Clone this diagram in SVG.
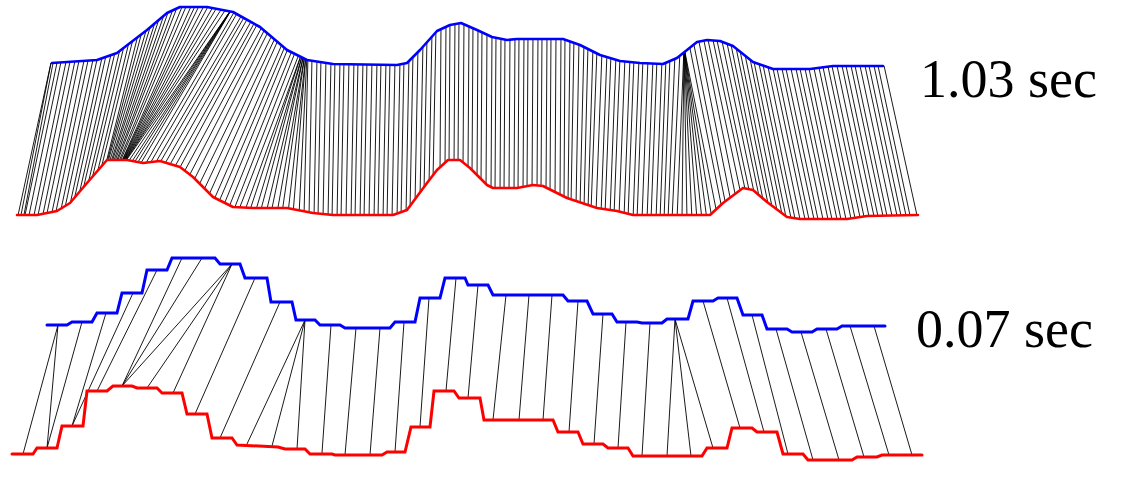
<svg xmlns="http://www.w3.org/2000/svg" width="1126" height="491" viewBox="0 0 1126 491">
<style>
.blue{fill:none;stroke:#0000ff;stroke-width:2.6;stroke-linejoin:round;stroke-linecap:round}
.red{fill:none;stroke:#ff0000;stroke-width:2.6;stroke-linejoin:round;stroke-linecap:round}
.bs{stroke-width:3;stroke-linejoin:miter}
.ln{fill:none;stroke:#000;stroke-width:0.9}
.lbl{font-family:"Liberation Serif","Times New Roman",serif;font-size:54px;fill:#000}
</style>
<defs>
<clipPath id="band">
<polygon points="-10,63 52,63 97,60 117,53 147,30 167,13 180,7 207,7 233,12 260,27 287,50 307,60 333,64 397,65 407,63 420,50 437,31 450,25 461,23 477,30 492,37 507,40 517,39 563,39 580,45 600,55 620,61 640,63 663,64 677,58 697,42 707,40 720,41 733,46 753,62 773,69 810,69 833,66 883,66 1000,66 1000,215 918,215 867,216 847,219 800,219 787,217 767,202 753,190 743,188 723,203 710,215 633,215 617,211 597,208 567,198 543,186 533,185 517,188 493,188 487,185 470,168 460,160 448,160 437,170 427,183 407,210 393,215 333,215 313,213 287,208 253,208 233,207 213,197 193,177 180,167 160,161 143,163 127,160 107,160 87,183 70,203 57,211 37,215 17,215 -10,215"/>
</clipPath>
</defs>
<rect width="1126" height="491" fill="#fff"/>
<g id="connectors">
<path id="links-top" class="ln" clip-path="url(#band)" d="M52 58L17 220M52 58L20 220M54 58L23 220M58 58L24 220M62 57L28 220M67 57L33 220M71 57L37 220M76 56L42 219M80 56L46 218M85 56L51 217M89 56L55 216M94 55L60 214M98 55L64 212M103 53L69 209M107 51L73 205M112 50L78 199M116 48L82 194M121 45L87 188M125 42L91 183M130 38L96 178M134 35L100 173M139 31L105 167M143 28L106 166M148 24L107 165M152 21L108.5 165M157 16L110 165M161 13L111 165M166 9L112.4 165M170 7L113.6 165M175 4L115 165M179 2.5L116 165M184 2L117.5 165M188 2L118.6 165M193 2L120 165M197 2L120.3 165M201 2L120.6 165M206 2L121 165M210 3L121.3 165M215 3.5L121.6 165M219 4L122 165M224 5L122.3 165M228 6L122.6 165M233 7L123 165M233 7L126 165M233 7L129 166M233 7L132 166M233 7L135 167M233 7L138 168M236 9L143 168M239 10L148 167M243 13L153 167M246 14L158 166M249 16L163 167M253 18L168 168M256 20L173 170M259 21L178 171M263 25L183 174M266 27L188 178M269 30L193 182M273 33L198 187M276 36L203 192M279 38L208 197M283 42L213 202M286 44L218 204M289 46L223 207M293 48L228 209.5M296 50L233 212M300 51.5L238 212M302 52.5L244 213M302 52.5L249 213M303 53L255 213M303 53L260 213M304 53.5L266 213M304 53.5L271 213M305 54L277 213M305 54L282 213M306 54.5L288 213M306 54.5L293 214M307 55L299 215M308 55L304 216M312 56L309 217M317 56.5L314 218M321 57L318 218.5M326 58L323 219M331 59L328 219.5M335 59L332 220M340 59L337 220M344 59L341 220M349 59L346 220M354 59L351 220M358 59.5L355 220M363 59.5L360 220M367 59.5L364 220M372 59.5L369 220M377 60L374 220M381 60L378 220M386 60L383 220M390 60L387 220M395 60L392 220M400 59.4L397 218.6M404 58.6L401 217M409 56L406 215M413 52L410 211M418 47L415 204M423 41.6L420 197.5M427 37L424 192M432 31.6L429 185.4M436 27L433 180M441 24L440 172M446 22L445 168M450 20L449 165M455 19L454 165M459 18.4L458 165M464 19.3L463 167.4M469 21.5L468 171.4M473 23L472 175M478 25.5L477 180M482 27.3L481 184M487 29.7L486 189M492 32L491 192M496 32.8L495 193M501 33.8L500 193M505 34.6L504 193M510 34.7L509 193M515 34.2L514 193M519 34L518 192.8M524 34L523 192M528 34L527 191M533 34L532 190M538 34L537 190.4M542 34L541 190.8M547 34L546 192.5M551 34L550 194.5M556 34L555 197M561 34L560 199.5M565 34.7L564 201.5M570 36.5L568 203.3M574 37.9L571 204.3M579 39.6L576 206M584 42L580 207.3M588 44L584 208.7M593 46.5L588 210M597 48.5L591 211M602 50.6L596 212.7M607 52.1L601 213.6M611 53.3L605 214.2M616 54.8L610 215M620 56L614 215.6M625 56.5L619 216.5M630 57L624 217.8M634 57.4L628 218.8M639 57.9L633 220M643 58.1L637 220M648 58.3L642 220M653 58.6L647 220M657 58.8L651 220M662 59L656 220M666 57.7L660 220M670 56L664 220M675 54L668 220M680 50.6L672 220M684 47.4L677 220M684 47.4L682 220M684 47.4L687 220M684 47.4L692 220M684 47.4L697 220M684 47.4L702 220M684 47.4L707 220M684 47.4L712 219M684 47.4L717 214M689 43.4L722 209M693 40L726 206M698 37L731 202M703 36L736 198.3M707 35L741 194.5M712 35.4L746 193.6M716 35.7L750 194.4M721 36.4L755 196.7M726 38.3L760 201M730 39.8L764 204.4M735 42.6L769 208.5M739 45.8L773 211.5M744 49.8L778 215.2M749 53.8L783 219M753 57L787 222M758 58.75L792 222.8M762 60L796 223.4M767 61.9L801 224M772 63.6L806 224M776 64L810 224M781 64L815 224M785 64L819 224M790 64L824 224M795 64L829 224M799 64L833 224M804 64L838 224M808 64L842 224M813 63.6L847 224M818 63L852 223.3M822 62.4L856 222.7M827 61.8L861 221.9M831 61.3L865 221.3M836 61L870 221M841 61L875 221M845 61L879 221M850 61L884 220.7M854 61L888 220.6M859 61L893 220.5M864 61L898 220.4M868 61L902 220.3M873 61L907 220.2M877 61L911 220.1M883 61L918 220"/>
<path id="links-bottom" class="ln" d="M58 325L23 454M58 325L47 448M82 322L47 448M106 313L72 426M133 293L72 426M157 270L97 391M182 258L122 386M202 258L122 386M232 264L122 386M232 264L147 388M232 264L173 393M255 278L195 414M280 302L220 438M305 320L247 444M305 320L272 446M305 320L297 449M331 325L322 453M356 328L345 455M380 328L370 455M404 322L395 452M429 298L420 427M456 278L446 391M478 285L468 398M506 295L493 420M529 295L519 420M552 295L543 420M578 301L569 432M603 314L594 444M626 322L618 448M650 323L642 456M675 319L667 456M675 319L691 456M675 319L713 448M703 301L740 428M727 298L764 432M752 315L788 454M776 329L813 460M801 332L839 460M826 329L864 457M850 326L889 455M874 326L912 455"/>
</g>
<g id="series-top-blue">
<polyline class="blue" points="52,63 97,60 117,53 147,30 167,13 180,7 207,7 233,12 260,27 287,50 307,60 333,64 397,65 407,63 420,50 437,31 450,25 461,23 477,30 492,37 507,40 517,39 563,39 580,45 600,55 620,61 640,63 663,64 677,58 697,42 707,40 720,41 733,46 753,62 773,69 810,69 833,66 883,66"/>
</g>
<g id="series-top-red">
<polyline class="red" points="17,215 37,215 57,211 70,203 87,183 107,160 127,160 143,163 160,161 180,167 193,177 213,197 233,207 253,208 287,208 313,213 333,215 393,215 407,210 427,183 437,170 448,160 460,160 470,168 487,185 493,188 517,188 533,185 543,186 567,198 597,208 617,211 633,215 710,215 723,203 743,188 753,190 767,202 787,217 800,219 847,219 867,216 918,215"/>
</g>
<g id="series-bottom-blue">
<polyline class="blue bs" points="47,325 67,325 72,322 92,322 97,313 117,313 122,293 142,293 147,270 167,270 172,258 215,258 220,264 240,264 245,278 267,278 271,302 292,302 296,320 315,320 320,325 340,325 345,328 390,328 395,322 415,322 420,298 440,298 445,278 465,278 468,285 488,285 493,295 563,295 568,301 587,301 593,314 612,314 617,322 637,322 642,323 662,323 667,319 688,319 693,301 713,301 718,298 737,298 743,315 762,315 767,329 787,329 792,332 812,332 817,329 837,329 842,326 885,326"/>
</g>
<g id="series-bottom-red">
<polyline class="red bs" points="12,454 33,454 37,448 57,448 62,426 83,426 87,391 107,391 113,386 132,386 137,388 157,388 162,393 182,393 187,414 207,414 212,438 232,438 237,445 278,447 285,449 305,449 310,454 332,454 335,455 382,455 387,452 405,452 411,427 430,427 434,391 454,391 459,398 480,398 484,420 553,420 558,432 578,432 583,444 603,444 608,448 628,448 633,456 702,456 707,448 727,448 732,428 752,428 757,432 777,432 783,454 803,454 808,460 852,460 857,457 877,457 882,455 922,455"/>
</g>
<g id="label-top"><text class="lbl" x="920" y="97">1.03 sec</text></g>
<g id="label-bottom"><text class="lbl" x="916" y="347">0.07 sec</text></g>
</svg>
